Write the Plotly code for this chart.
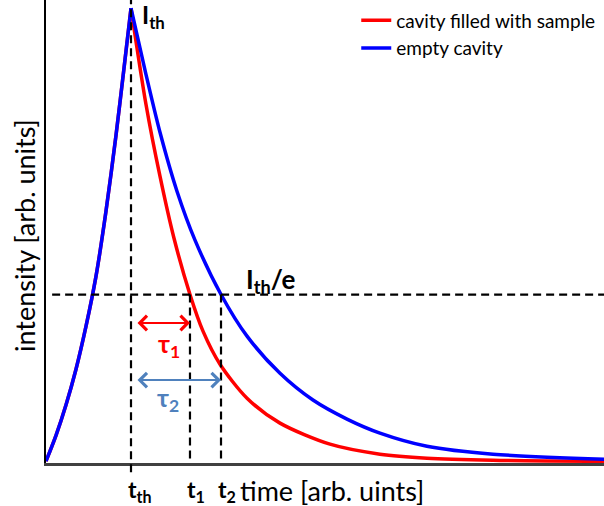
import numpy as np
import plotly.graph_objects as go

# ---- data (time and intensity in arbitrary units) ----
t_rise = [0.0, 0.118, 0.235, 0.353, 0.471, 0.588, 0.706, 0.824, 0.918, 1.0]
I_rise = [0.0, 0.057, 0.124, 0.203, 0.298, 0.408, 0.552, 0.720, 0.868, 1.0]

t_red = [1.0, 1.176, 1.341, 1.506, 1.694, 1.847, 2.047, 2.365, 2.753, 3.341, 3.929, 4.482, 5.259, 6.565]
I_red = [1.0, 0.788, 0.629, 0.492, 0.368, 0.287, 0.214, 0.139, 0.084, 0.0375, 0.0155, 0.0066, 0.0022, 0.0]

t_blue = [1.0, 1.176, 1.341, 1.541, 1.753, 2.059, 2.365, 2.753, 3.141, 3.541, 3.929, 4.482, 5.259, 6.565]
I_blue = [1.0, 0.854, 0.726, 0.596, 0.488, 0.368, 0.276, 0.194, 0.135, 0.093, 0.062, 0.033, 0.0155, 0.0044]

t_th = 1.0
t_1 = 1.694
t_2 = 2.059
I_th = 1.0
I_e = I_th / np.e

series_names = ["cavity filled with sample", "empty cavity"]
tick_labels = ["<b>t<sub>th</sub></b>", "<b>t<sub>1</sub></b>", "<b>t<sub>2</sub></b>"]
tick_vals = [t_th, t_1, t_2]

RED = "#FF0000"
BLUE = "#0000FF"
STEEL = "#4F81BD"
FONT = "Lato"

fig = go.Figure()
line_kw = dict(width=3.5, shape="spline", smoothing=0.8)
# red (rise hidden under blue)
fig.add_trace(go.Scatter(x=t_rise, y=I_rise, mode="lines", line=dict(color=RED, **line_kw),
                         legendgroup="red", showlegend=False, hoverinfo="skip"))
fig.add_trace(go.Scatter(x=t_red, y=I_red, mode="lines", name=series_names[0],
                         line=dict(color=RED, **line_kw), legendgroup="red"))
fig.add_trace(go.Scatter(x=t_rise, y=I_rise, mode="lines", line=dict(color=BLUE, **line_kw),
                         legendgroup="blue", showlegend=False, hoverinfo="skip"))
fig.add_trace(go.Scatter(x=t_blue, y=I_blue, mode="lines", name=series_names[1],
                         line=dict(color=BLUE, **line_kw), legendgroup="blue"))

dash = dict(color="black", width=2.2, dash="8px,5px")
# dashed guide lines
fig.add_shape(type="line", xref="x", yref="y domain", x0=t_th, x1=t_th, y0=-0.02, y1=1, line=dash)
fig.add_shape(type="line", xref="x", yref="y", x0=t_1, x1=t_1, y0=I_e, y1=-0.02, line=dash)
fig.add_shape(type="line", xref="x", yref="y", x0=t_2, x1=t_2, y0=I_e, y1=-0.02, line=dash)
fig.add_shape(type="line", xref="x domain", yref="y", x0=0.011, x1=1, y0=I_e, y1=I_e, line=dash)

ann = []
# tau arrows
ann.append(dict(x=t_1, y=0.305, ax=t_th, ay=0.305, xref="x", yref="y", axref="x", ayref="y",
                text="", showarrow=True, arrowside="end+start", arrowhead=4, startarrowhead=4,
                arrowsize=1.4, startarrowsize=1.4, arrowwidth=2, arrowcolor=RED, startstandoff=5, standoff=0))
ann.append(dict(x=t_2, y=0.179, ax=t_th, ay=0.179, xref="x", yref="y", axref="x", ayref="y",
                text="", showarrow=True, arrowside="end+start", arrowhead=4, startarrowhead=4,
                arrowsize=1.4, startarrowsize=1.4, arrowwidth=2, arrowcolor=STEEL, startstandoff=5, standoff=0))
ann.append(dict(x=(t_th + t_1) / 2, y=0.305, xref="x", yref="y", xshift=9, yshift=-22, showarrow=False,
                text="<b>τ<sub>1</sub></b>", font=dict(family=FONT, size=25, color=RED)))
ann.append(dict(x=(t_th + t_1) / 2, y=0.179, xref="x", yref="y", xshift=8, yshift=-19, showarrow=False,
                text="<b>τ<sub>2</sub></b>", font=dict(family=FONT, size=25, color=STEEL)))
# I_th labels
ann.append(dict(x=t_th, y=I_th, xref="x", yref="y", xanchor="left", yanchor="middle", xshift=9, yshift=-8,
                showarrow=False, text="<b>I<sub>th</sub></b>", font=dict(family=FONT, size=24, color="black")))
ann.append(dict(x=2.365, y=I_e, xref="x", yref="y", xanchor="left", yanchor="middle", xshift=-3, yshift=14,
                showarrow=False, text="<b>I<sub>th</sub>/e</b>", font=dict(family=FONT, size=26, color="black")))
# tick labels
for v, lab in zip(tick_vals, tick_labels):
    ann.append(dict(x=v, y=0, xref="x", yref="paper", xanchor="left", yanchor="middle", xshift=-5, yshift=-27,
                    showarrow=False, text=lab, font=dict(family=FONT, size=23, color="black")))
# axis titles
ann.append(dict(x=(236 - 46) / 558, y=0, xref="paper", yref="paper", xanchor="left", yanchor="middle", yshift=-27,
                showarrow=False, text="time [arb. uints]", bgcolor="white", borderpad=3,
                font=dict(family=FONT, size=27, color="black")))
ann.append(dict(x=-22 / 558, y=(463 - 236) / 463, xref="paper", yref="paper", xanchor="center", yanchor="middle",
                textangle=-90, showarrow=False, text="intensity [arb. units]",
                font=dict(family=FONT, size=27, color="black")))

fig.update_layout(
    width=604, height=506,
    margin=dict(l=46, r=0, t=0, b=43),
    paper_bgcolor="white", plot_bgcolor="white",
    font=dict(family=FONT, color="black"),
    showlegend=True,
    legend=dict(x=0.556, y=0.997, xanchor="left", yanchor="top", bgcolor="rgba(0,0,0,0)",
                font=dict(family=FONT, size=19, color="black"), tracegroupgap=0),
    annotations=ann,
    xaxis=dict(range=[0, 6.565], showgrid=False, zeroline=False, showticklabels=False, ticks="",
               showline=True, linecolor="#404040", linewidth=2.5),
    yaxis=dict(range=[-0.004, 1.018], showgrid=False, zeroline=False, showticklabels=False, ticks="",
               showline=True, linecolor="black", linewidth=1.5),
)

fig.write_html("out.html")
